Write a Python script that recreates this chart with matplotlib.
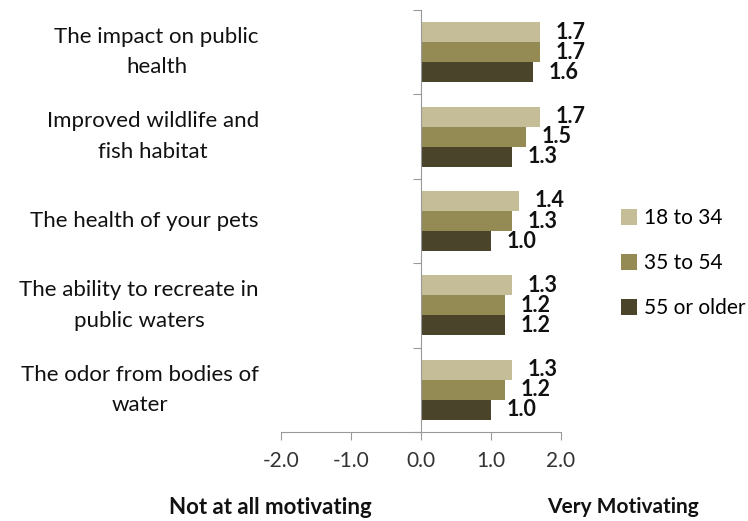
import numpy as np
import matplotlib.pyplot as plt

categories = ["The impact on public\nhealth",
              "Improved wildlife and\nfish habitat",
              "The health of your pets",
              "The ability to recreate in\npublic waters",
              "The odor from bodies of\nwater"]
series = ["18 to 34", "35 to 54", "55 or older"]
age_18_34 = [1.7, 1.7, 1.4, 1.3, 1.3]
age_35_54 = [1.7, 1.5, 1.3, 1.2, 1.2]
age_55_up = [1.6, 1.3, 1.0, 1.2, 1.0]
colors = ["#C4BD97", "#948A54", "#4A452A"]
xticks = [-2.0, -1.0, 0.0, 1.0, 2.0]

plt.rcParams['font.family'] = ['Lato', 'DejaVu Sans']

fig = plt.figure(figsize=(7.48, 5.21), dpi=100)
ax = fig.add_axes([281 / 748, 1 - 432 / 521, 280 / 748, 422 / 521])

n = len(categories)
ypos = np.arange(n)[::-1]  # first category at top
h = 0.237
values = [age_18_34, age_35_54, age_55_up]
for i, (vals, name, c) in enumerate(zip(values, series, colors)):
    yy = ypos + (1 - i) * h
    ax.barh(yy, vals, height=h, color=c, label=name)
    for y, v in zip(yy, vals):
        ax.text(v + 0.22, y, f"{v:.1f}", va='center', ha='left',
                fontsize=15.5, fontweight='bold', color='#111111')

ax.set_xlim(-2, 2)
ax.set_ylim(-0.5, n - 0.5)
ax.set_xticks(xticks)
ax.set_xticklabels([f"{t:.1f}" for t in xticks], fontsize=15, color='#333333')
ax.tick_params(axis='x', length=6, color='#999999', pad=8)

# y axis at zero, ticks at category boundaries
ax.spines['left'].set_position(('data', 0))
ax.spines['left'].set_color('#999999')
ax.spines['bottom'].set_color('#999999')
ax.spines['top'].set_visible(False)
ax.spines['right'].set_visible(False)
ax.set_yticks(np.arange(n + 1) - 0.5)
ax.set_yticklabels([])
ax.tick_params(axis='y', length=6, color='#999999')

for y, lab in zip(ypos, categories):
    ax.text(-0.079, y, lab, transform=ax.get_yaxis_transform(),
            ha='right', va='center', multialignment='center',
            fontsize=16, color='#111111', linespacing=1.65)

fig.legend(loc='upper left', bbox_to_anchor=(613 / 748, 1 - 200 / 521),
           frameon=False, fontsize=15, handlelength=0.75, handleheight=0.75,
           handletextpad=0.35, labelspacing=1.2, borderaxespad=0)

fig.text(270 / 748, 1 - 507 / 521, "Not at all motivating", ha='center',
         va='center', fontsize=16, fontweight='bold', color='#111111')
fig.text(623 / 748, 1 - 507 / 521, "Very Motivating", ha='center',
         va='center', fontsize=15, fontweight='bold', color='#111111')

fig.savefig("out.png", dpi=100)
